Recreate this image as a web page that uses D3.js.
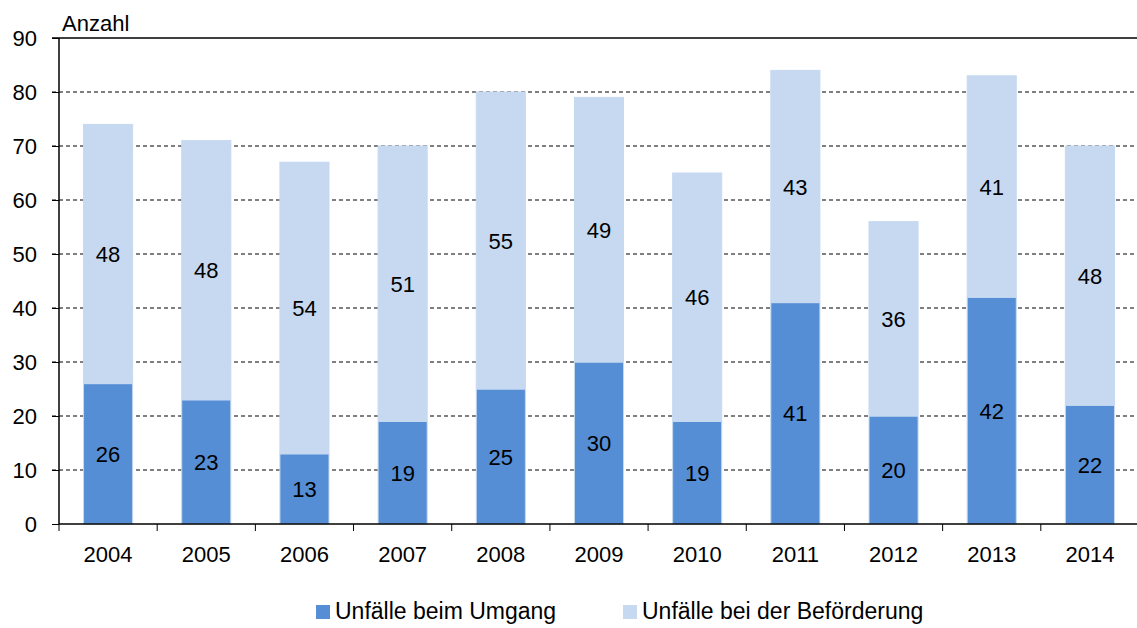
<!DOCTYPE html>
<html>
<head>
<meta charset="utf-8">
<script src="https://cdn.jsdelivr.net/npm/d3@7"></script>
<style>
  body { margin: 0; background: #fff; }
  svg text { font-family: "Liberation Sans", Arial, sans-serif; fill: #000; }
</style>
</head>
<body>
<svg id="chart" width="1137" height="628"></svg>
<script>
// data
var years = ["2004","2005","2006","2007","2008","2009","2010","2011","2012","2013","2014"];
var umgang = [26, 23, 13, 19, 25, 30, 19, 41, 20, 42, 22];
var befoerderung = [48, 48, 54, 51, 55, 49, 46, 43, 36, 41, 48];
var yTicks = [0, 10, 20, 30, 40, 50, 60, 70, 80, 90];
var seriesNames = ["Unfälle beim Umgang", "Unfälle bei der Beförderung"];
var colors = ["#558ed5", "#c6d9f1"];

var svg = d3.select("#chart");
var margin = {top: 38, left: 59};
var w = 1080, h = 486;

var xScale = d3.scaleBand().domain(years).range([0, w]).paddingInner(0.5).paddingOuter(0.25);
var yScale = d3.scaleLinear().domain([0, 90]).range([h, 0]);

var g = svg.append("g").attr("transform", "translate(" + margin.left + "," + margin.top + ")");

// gridlines
g.append("g").selectAll("line")
  .data(yTicks.filter(function(d) { return d > 0; }))
  .enter().append("line")
  .attr("x1", -7).attr("x2", w)
  .attr("y1", function(d) { return yScale(d); })
  .attr("y2", function(d) { return yScale(d); })
  .style("stroke", "#000")
  .style("stroke-width", function(d) { return d === 90 ? 1.3 : 1; })
  .style("stroke-dasharray", function(d) { return d === 90 ? "none" : "4,3"; });

// stacked data
var rows = years.map(function(y, i) { return {year: y, a: umgang[i], b: befoerderung[i]}; });
var stack = d3.stack().keys(["a", "b"])(rows);

var layers = g.selectAll(".layer").data(stack).enter().append("g")
  .attr("class", "layer")
  .style("fill", function(d, i) { return colors[i]; });

layers.selectAll("rect")
  .data(function(d) { return d; })
  .enter().append("rect")
  .attr("x", function(d) { return xScale(d.data.year); })
  .attr("width", xScale.bandwidth())
  .attr("y", function(d) { return yScale(d[1]); })
  .attr("height", function(d) { return yScale(d[0]) - yScale(d[1]); })
  .style("stroke", "#c6d9f1")
  .style("stroke-width", 1);

// value labels
layers.selectAll("text")
  .data(function(d) { return d; })
  .enter().append("text")
  .attr("x", function(d) { return xScale(d.data.year) + xScale.bandwidth() / 2; })
  .attr("y", function(d) { return (yScale(d[0]) + yScale(d[1])) / 2 + 8; })
  .attr("text-anchor", "middle")
  .style("font-size", "22px")
  .text(function(d) { return d[1] - d[0]; });

// y axis
var yAxis = d3.axisLeft(yScale).tickValues(yTicks).tickSize(7).tickPadding(15);
var yG = g.append("g").call(yAxis);
yG.select(".domain").attr("d", "M0,0V" + h).style("stroke", "#000").style("stroke-width", 1.5);
yG.selectAll(".tick line").style("stroke", "#000");
yG.selectAll("text").style("font-size", "22px").attr("dy", "0.35em");

// x axis with ticks between bars
var xG = g.append("g").attr("transform", "translate(0," + h + ")");
xG.append("line").attr("x1", 0).attr("x2", w).style("stroke", "#000").style("stroke-width", 1.5);
var step = xScale.step();
xG.selectAll(".xt").data(d3.range(years.length + 1)).enter().append("line")
  .attr("x1", function(i) { return i * step; })
  .attr("x2", function(i) { return i * step; })
  .attr("y1", 0).attr("y2", 7)
  .style("stroke", "#000");
xG.selectAll(".xl").data(years).enter().append("text")
  .attr("x", function(d) { return xScale(d) + xScale.bandwidth() / 2; })
  .attr("y", 38)
  .attr("text-anchor", "middle")
  .style("font-size", "22px")
  .text(function(d) { return d; });

// axis title
svg.append("text").attr("x", 62).attr("y", 31).style("font-size", "22px").text("Anzahl");

// legend
var legendX = [316, 623];
var legend = svg.append("g").selectAll("g").data(seriesNames).enter().append("g")
  .attr("transform", function(d, i) { return "translate(" + legendX[i] + ",605)"; });
legend.append("rect").attr("width", 14).attr("height", 14)
  .style("fill", function(d, i) { return colors[i]; });
legend.append("text").attr("x", 19).attr("y", 14).style("font-size", "23px")
  .text(function(d) { return d; });
</script>
</body>
</html>
